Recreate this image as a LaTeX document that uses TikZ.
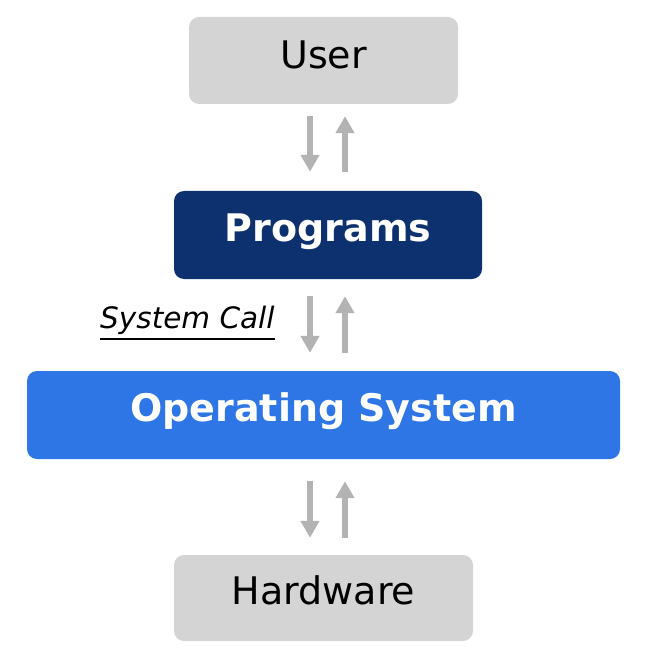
\documentclass[tikz,border=0pt]{standalone}
\usepackage{fontspec}
\setmainfont{DejaVu Sans}
\usetikzlibrary{arrows.meta}
\definecolor{boxgray}{HTML}{D4D4D4}
\definecolor{arrowgray}{HTML}{B3B3B3}
\definecolor{navy}{HTML}{0D306F}
\definecolor{osblue}{HTML}{2E75E6}
\tikzset{
  layerbox/.style={rectangle, rounded corners=10pt, inner sep=0pt,
    text height=28pt, text depth=16pt,
    font=\fontsize{38}{40}\selectfont},
  graybox/.style={layerbox, fill=boxgray, text=black},
  darkbox/.style={layerbox, fill=navy, text=white, font=\fontsize{38}{40}\selectfont\bfseries},
  bluebox/.style={layerbox, fill=osblue, text=white, font=\fontsize{38}{40}\selectfont\bfseries},
  flowarrow/.style={draw=arrowgray, line width=6pt,
    -{Triangle[width=18pt,length=17pt,fill=arrowgray]}},
}
\begin{document}
\begin{tikzpicture}[x=1pt,y=-1pt]
\useasboundingbox (0,0) rectangle (645,668);
\node[graybox, text depth=11pt, minimum width=269pt, minimum height=87pt] (user) at (323.5,60.5) {User};
\node[darkbox, minimum width=308pt, minimum height=88pt] (prog) at (328,235) {Programs};
\node[bluebox, minimum width=593pt, minimum height=88pt] (os) at (323.5,415) {Operating System};
\node[graybox, minimum width=299pt, minimum height=86pt] (hw) at (323.5,598) {Hardware};
\coordinate (dx) at (310,0);
\coordinate (ux) at (345,0);
% user <-> programs
\draw[flowarrow] ([yshift=-12pt]user.south -| dx) -- ([yshift=19pt]prog.north -| dx);
\draw[flowarrow] ([yshift=19pt]prog.north -| ux) -- ([yshift=-12pt]user.south -| ux);
% programs <-> os
\draw[flowarrow] ([yshift=-17pt]prog.south -| dx) -- ([yshift=18pt]os.north -| dx);
\draw[flowarrow] ([yshift=18pt]os.north -| ux) -- ([yshift=-17pt]prog.south -| ux);
% os <-> hardware
\draw[flowarrow] ([yshift=-22pt]os.south -| dx) -- ([yshift=17pt]hw.north -| dx);
\draw[flowarrow] ([yshift=17pt]hw.north -| ux) -- ([yshift=-22pt]os.south -| ux);
% label
\node[anchor=base west, inner sep=0pt, font=\fontsize{29.5}{31}\selectfont\itshape] (sc) at (100,328) {System Call};
\draw[line width=2pt] ([yshift=-11pt]sc.base west) -- ([yshift=-11pt]sc.base east);
\end{tikzpicture}
\end{document}
